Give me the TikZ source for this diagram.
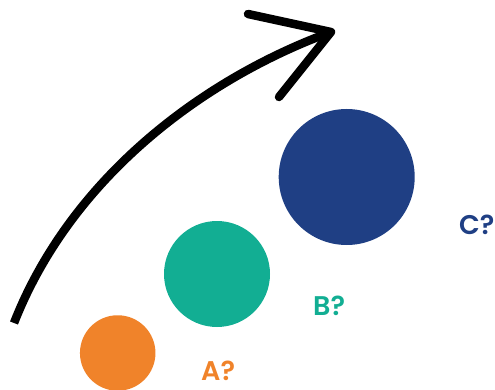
\documentclass[tikz,border=0pt]{standalone}
\usepackage{fontspec}
\newfontfamily\lab{Poppins SemiBold}
\definecolor{dotA}{HTML}{F0832A}
\definecolor{dotB}{HTML}{12AE93}
\definecolor{dotC}{HTML}{1F3F84}
\begin{document}
\begin{tikzpicture}[x=1pt,y=-1pt,
  dot/.style={circle,inner sep=0pt,minimum size=#1},
  tag/.style={anchor=base west,inner sep=0pt,font=\lab\fontsize{27}{27}\selectfont},
  stroke/.style={line width=8.5pt}]
\useasboundingbox (0,0) rectangle (495,390);
% three dots of growing size
\node[dot=75.5pt,fill=dotA] (a) at (117.7,353) {};
\node[dot=106pt,fill=dotB] (b) at (217,274) {};
\node[dot=136pt,fill=dotC] (c) at (346.7,177) {};
% their labels
\node[tag,text=dotA] (la) at (201,380) {A?};
\node[tag,text=dotB] (lb) at (313,315) {B?};
\node[tag,text=dotC] (lc) at (459,234) {C?};
% rising arrow
\coordinate (s) at (14,323);
\coordinate (t) at (331,32);
\coordinate (h1) at (248,14);
\coordinate (h2) at (279,97);
\draw[stroke,line cap=butt] (s) .. controls (70,180) and (200,80) .. (t);
\draw[stroke,line cap=round,line join=round] (h1) -- (t) -- (h2);
\end{tikzpicture}
\end{document}
